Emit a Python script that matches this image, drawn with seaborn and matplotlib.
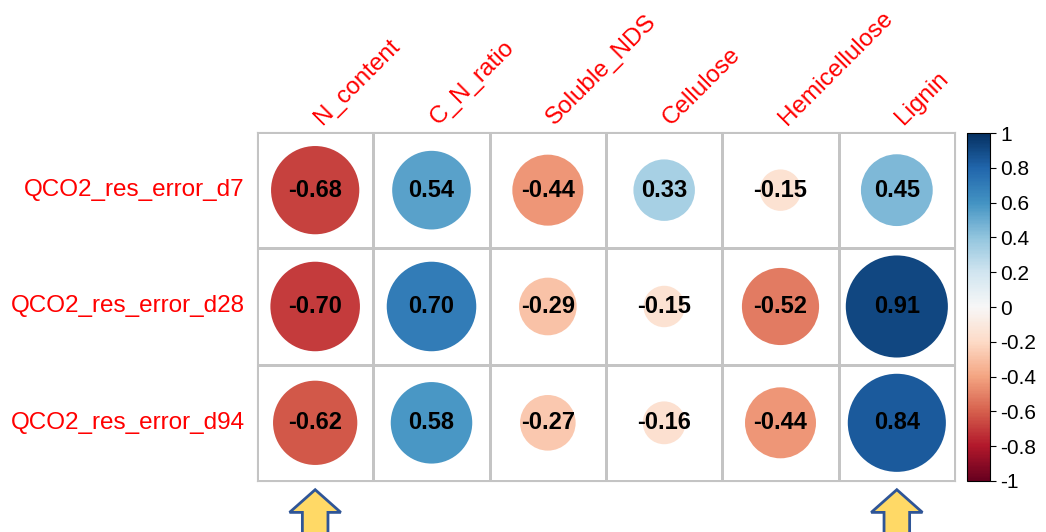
import numpy as np
import pandas as pd
import matplotlib
import matplotlib.pyplot as plt
import seaborn as sns
from matplotlib.colors import ListedColormap, Normalize
from matplotlib.patches import Circle, Polygon

variables = ["N_content", "C_N_ratio", "Soluble_NDS", "Cellulose", "Hemicellulose", "Lignin"]
responses = ["QCO2_res_error_d7", "QCO2_res_error_d28", "QCO2_res_error_d94"]
r_d7 = [-0.68, 0.54, -0.44, 0.33, -0.15, 0.45]
r_d28 = [-0.70, 0.70, -0.29, -0.15, -0.52, 0.91]
r_d94 = [-0.62, 0.58, -0.27, -0.16, -0.44, 0.84]
highlighted = ["N_content", "Lignin"]
cbar_ticks = [-1, -0.8, -0.6, -0.4, -0.2, 0, 0.2, 0.4, 0.6, 0.8, 1]

corr = pd.DataFrame([r_d7, r_d28, r_d94], index=responses, columns=variables)

plt.rcParams['font.family'] = ['Liberation Sans', 'DejaVu Sans']

fig = plt.figure(figsize=(10.46, 5.32), dpi=100)
ax = fig.add_axes([0.2457, 0.0959, 0.6673, 0.656])
cax = fig.add_axes([0.9245, 0.0959, 0.022, 0.654])

# white grid of cells
sns.heatmap(np.zeros(corr.shape), cmap=ListedColormap(['white']), cbar=False,
            linewidths=0.8, linecolor='#c4c4c4', ax=ax,
            xticklabels=variables, yticklabels=responses)
for s in ax.spines.values():
    s.set_visible(True)
    s.set_color('#c4c4c4')
    s.set_linewidth(0.8)

cmap = plt.get_cmap('RdBu')
norm = Normalize(-1, 1)

for i, row in enumerate(corr.index):
    for j, col in enumerate(corr.columns):
        v = corr.loc[row, col]
        rad = 0.46 * np.sqrt(abs(v))
        ax.add_patch(Circle((j + 0.5, i + 0.5), rad, facecolor=cmap(norm(v)),
                            edgecolor='none', zorder=3))
        ax.text(j + 0.5, i + 0.5, f"{v:.2f}", ha='center', va='center',
                fontsize=17, fontweight='bold', color='black', zorder=4)

ax.xaxis.tick_top()
ax.set_xticks(np.arange(len(variables)) + 0.59)
ax.set_xticklabels(variables, rotation=45, ha='left', rotation_mode='anchor',
                   fontsize=17.5, color='red')
ax.set_yticklabels(responses, rotation=0, fontsize=17.5, color='red')
ax.tick_params(axis='both', length=0)
ax.tick_params(axis='x', pad=2)
ax.tick_params(axis='y', pad=9)
ax.set_xlabel('')
ax.set_ylabel('')

# arrows under highlighted columns
for name in highlighted:
    x = variables.index(name) + 0.5
    pts = [(x, 3.075), (x + 0.22, 3.27), (x + 0.11, 3.27), (x + 0.11, 3.6),
           (x - 0.11, 3.6), (x - 0.11, 3.27), (x - 0.22, 3.27)]
    ax.add_patch(Polygon(pts, closed=True, facecolor='#ffd966', edgecolor='#2f5597',
                         linewidth=2, clip_on=False, zorder=5))

sm = matplotlib.cm.ScalarMappable(norm=norm, cmap=cmap)
cb = fig.colorbar(sm, cax=cax, ticks=cbar_ticks)
cb.ax.set_yticklabels([f"{t:g}" for t in cbar_ticks])
cb.ax.tick_params(labelsize=15, length=4)
cb.outline.set_edgecolor('black')

fig.savefig("out.png", dpi=100)
